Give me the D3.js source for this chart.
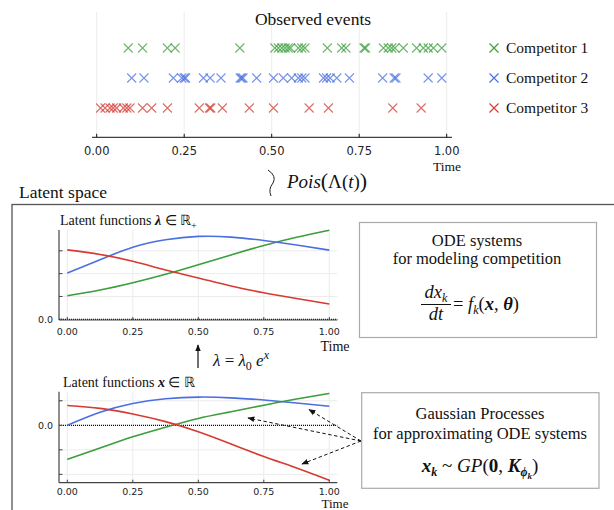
<!DOCTYPE html>
<html>
<head>
<meta charset="utf-8">
<script src="https://cdn.jsdelivr.net/npm/d3@7"></script>
<style>
  body { margin: 0; background: #fff; }
  svg { display: block; }
  .serif { font-family: "Liberation Serif", "Times New Roman", serif; fill: #111; }
  .tick-label { font-family: "DejaVu Sans", sans-serif; fill: #222; }
</style>
</head>
<body>
<svg id="chart" width="614" height="510"></svg>
<script>
// ---- data ----
const timeTicks = [0, 0.25, 0.5, 0.75, 1];
const competitors = ["Competitor 1", "Competitor 2", "Competitor 3"];
const colors = ["#3b9d3b", "#4a6fe0", "#d63a30"];

// event times for each competitor
const events1 = [0.090, 0.131, 0.202, 0.224, 0.409, 0.509, 0.519, 0.529, 0.538, 0.547, 0.554, 0.576, 0.586, 0.595,
                 0.659, 0.700, 0.712, 0.764, 0.768, 0.819, 0.833, 0.843, 0.852, 0.876, 0.914, 0.933, 0.947, 0.962, 0.986];
const events2 = [0.100, 0.135, 0.219, 0.243, 0.250, 0.254, 0.305, 0.324, 0.355, 0.410, 0.414, 0.418, 0.457, 0.505,
                 0.533, 0.557, 0.576, 0.586, 0.595, 0.648, 0.657, 0.667, 0.686, 0.722, 0.817, 0.850, 0.855, 0.947, 0.986];
const events3 = [0.011, 0.024, 0.038, 0.047, 0.057, 0.076, 0.086, 0.095, 0.131, 0.157, 0.202, 0.293, 0.322, 0.326,
                 0.359, 0.436, 0.505, 0.607, 0.662, 0.846, 0.927];

// latent curves sampled at these times
const curveT = [0, 0.125, 0.25, 0.375, 0.5, 0.625, 0.75, 0.875, 1];
// lambda (positive intensities)
const lambda1 = [1.03, 1.28, 1.60, 1.97, 2.39, 2.82, 3.23, 3.59, 3.90];
const lambda2 = [2.03, 2.61, 3.15, 3.48, 3.63, 3.60, 3.45, 3.25, 3.03];
const lambda3 = [3.04, 2.84, 2.54, 2.16, 1.81, 1.46, 1.16, 0.91, 0.67];
const lambdaTicks = [0, 1, 2, 3];
// x (log intensities)
const latent1 = [-1.39, -0.93, -0.47, -0.08, 0.28, 0.55, 0.82, 1.07, 1.30];
const latent2 = [0.00, 0.53, 0.89, 1.08, 1.15, 1.12, 1.03, 0.91, 0.78];
const latent3 = [0.81, 0.69, 0.46, 0.15, -0.26, -0.76, -1.27, -1.74, -2.24];
const latentTicks = [1, 0, -1, -2];

const svg = d3.select("#chart");
const fmt2 = d3.format(".2f");
const crossPath = "M-4.5,-4.5L4.5,4.5M-4.5,4.5L4.5,-4.5";

// ---------- top: observed events ----------
const xTop = d3.scaleLinear().domain([0, 1]).range([96.7, 446.7]);
const rowY = d3.scalePoint().domain(competitors).range([48, 108]);

const topG = svg.append("g");
topG.selectAll("line.grid").data(timeTicks).join("line")
  .attr("x1", d => xTop(d)).attr("x2", d => xTop(d))
  .attr("y1", 12).attr("y2", 137)
  .attr("stroke", "#ececec").attr("stroke-width", 1);

topG.append("text").attr("class", "serif")
  .attr("x", 313).attr("y", 25).attr("text-anchor", "middle")
  .style("font-size", "17.5px").text("Observed events");

[events1, events2, events3].forEach((ev, i) => {
  topG.selectAll(null).data(ev).join("path")
    .attr("d", crossPath)
    .attr("transform", d => `translate(${xTop(d)},${rowY(competitors[i])})`)
    .attr("fill", "none").attr("stroke", colors[i])
    .attr("stroke-width", 1.1).attr("stroke-opacity", 0.75);
});

// axis
const axTop = topG.append("g").attr("transform", "translate(0,137.3)");
axTop.append("line").attr("x1", 92).attr("x2", 452).attr("stroke", "#111").attr("stroke-width", 1);
axTop.selectAll("line.t").data(timeTicks).join("line")
  .attr("x1", d => xTop(d)).attr("x2", d => xTop(d)).attr("y1", 0).attr("y2", -3.5)
  .attr("stroke", "#111");
axTop.selectAll("text").data(timeTicks).join("text")
  .attr("class", "tick-label").attr("x", d => xTop(d)).attr("y", 18)
  .attr("text-anchor", "middle").style("font-size", "11.5px").text(d => fmt2(d));
topG.append("text").attr("class", "serif").attr("x", 447).attr("y", 171)
  .attr("text-anchor", "middle").style("font-size", "13.5px").text("Time");

// legend
const leg = topG.selectAll("g.leg").data(competitors).join("g")
  .attr("transform", d => `translate(494,${rowY(d)})`);
leg.append("path").attr("d", crossPath).attr("fill", "none")
  .attr("stroke", (d, i) => colors[i]).attr("stroke-width", 1.2);
leg.append("text").attr("class", "serif").attr("x", 12).attr("y", 5)
  .style("font-size", "15.5px").text(d => d);

// Poisson link
svg.append("path").attr("d", "M268,170 Q277,176 273,183 Q268,189 271,196")
  .attr("fill", "none").attr("stroke", "#222").attr("stroke-width", 1);
const pois = svg.append("text").attr("class", "serif").attr("x", 287).attr("y", 188)
  .style("font-size", "19px");
pois.append("tspan").style("font-style", "italic").text("Pois");
pois.append("tspan").style("font-size", "22px").text("(");
pois.append("tspan").text("Λ(");
pois.append("tspan").style("font-style", "italic").text("t");
pois.append("tspan").text(")");
pois.append("tspan").style("font-size", "22px").text(")");

// ---------- latent space frame ----------
svg.append("text").attr("class", "serif").attr("x", 19).attr("y", 198)
  .style("font-size", "17.5px").text("Latent space");
svg.append("rect").attr("x", 12).attr("y", 204.5).attr("width", 620).attr("height", 320)
  .attr("fill", "none").attr("stroke", "#555").attr("stroke-width", 1.3);

const xIn = d3.scaleLinear().domain([0, 1]).range([67.3, 329.3]);

function panel(yScale, yTicks, series, yTop, yBottom, labelOff, timeOff, timeSize) {
  const g = svg.append("g");
  // grid
  g.selectAll("line.vg").data(timeTicks).join("line")
    .attr("x1", d => xIn(d)).attr("x2", d => xIn(d)).attr("y1", yTop).attr("y2", yBottom)
    .attr("stroke", "#ececec");
  g.selectAll("line.hg").data(yTicks).join("line")
    .attr("x1", 59).attr("x2", 337.3).attr("y1", d => yScale(d)).attr("y2", d => yScale(d))
    .attr("stroke", "#ececec");
  // zero line
  g.append("line").attr("x1", 59).attr("x2", 337.3).attr("y1", yScale(0)).attr("y2", yScale(0))
    .attr("stroke", "#111").attr("stroke-width", 1.2).attr("stroke-dasharray", "1,1");
  // curves
  const line = d3.line().x((d, i) => xIn(curveT[i])).y(d => yScale(d)).curve(d3.curveNatural);
  series.forEach((s, i) => {
    g.append("path").attr("d", line(s)).attr("fill", "none")
      .attr("stroke", colors[i]).attr("stroke-width", 1.6);
  });
  // axes
  g.append("line").attr("x1", 59).attr("x2", 59).attr("y1", yTop).attr("y2", yBottom)
    .attr("stroke", "#444").attr("stroke-width", 1.2);
  g.append("line").attr("x1", 59).attr("x2", 337.3).attr("y1", yBottom).attr("y2", yBottom)
    .attr("stroke", "#444").attr("stroke-width", 1.2);
  g.selectAll("line.yt").data(yTicks).join("line")
    .attr("x1", 59).attr("x2", 62.5).attr("y1", d => yScale(d)).attr("y2", d => yScale(d))
    .attr("stroke", "#444");
  g.selectAll("line.xt").data(timeTicks).join("line")
    .attr("x1", d => xIn(d)).attr("x2", d => xIn(d)).attr("y1", yBottom).attr("y2", yBottom - 3)
    .attr("stroke", "#444");
  g.selectAll("text.xl").data(timeTicks).join("text")
    .attr("class", "tick-label").attr("x", d => xIn(d)).attr("y", yBottom + labelOff)
    .attr("text-anchor", "middle").style("font-size", "9.5px").text(d => fmt2(d));
  g.append("text").attr("class", "tick-label").attr("x", 53).attr("y", yScale(0) + 3.5)
    .attr("text-anchor", "end").style("font-size", "9.5px").text("0.0");
  g.append("text").attr("class", "serif").attr("x", 335).attr("y", yBottom + timeOff)
    .attr("text-anchor", "middle").style("font-size", timeSize).text("Time");
  return g;
}

// lambda panel
const yLam = d3.scaleLinear().domain([0, 3.91]).range([319.3, 230]);
panel(yLam, lambdaTicks, [lambda1, lambda2, lambda3], 230, 320, 15, 31, "14px");
const t1 = svg.append("text").attr("class", "serif").attr("x", 60).attr("y", 225)
  .style("font-size", "14px");
t1.append("tspan").text("Latent functions ");
t1.append("tspan").style("font-weight", "bold").style("font-style", "italic").text("λ");
t1.append("tspan").text(" ∈ ℝ");
t1.append("tspan").attr("dy", 4).style("font-size", "10px").text("+");

// x panel
const yLat = d3.scaleLinear().domain([-2.34, 1.37]).range([482.7, 391.7]);
panel(yLat, latentTicks, [latent1, latent2, latent3], 391.7, 482.7, 11.8, 25.5, "13px");
const t2 = svg.append("text").attr("class", "serif").attr("x", 63).attr("y", 387)
  .style("font-size", "14px");
t2.append("tspan").text("Latent functions  ");
t2.append("tspan").style("font-weight", "bold").style("font-style", "italic").text("x");
t2.append("tspan").text(" ∈ ℝ");

// arrow lambda = lambda0 e^x
svg.append("defs").html(
  '<marker id="head" viewBox="0 0 10 10" refX="9" refY="5" markerWidth="6" markerHeight="6" orient="auto">' +
  '<path d="M0,1L10,5L0,9z" fill="#111"/></marker>' +
  '<marker id="head2" viewBox="0 0 10 10" refX="9" refY="5" markerWidth="7" markerHeight="7" orient="auto">' +
  '<path d="M0,1L10,5L0,9z" fill="#111"/></marker>');
svg.append("line").attr("x1", 198).attr("x2", 198).attr("y1", 368).attr("y2", 345)
  .attr("stroke", "#111").attr("stroke-width", 1.2).attr("marker-end", "url(#head)");
const lam = svg.append("text").attr("class", "serif").attr("x", 213).attr("y", 366)
  .style("font-size", "17px");
lam.append("tspan").style("font-style", "italic").text("λ");
lam.append("tspan").text(" = ");
lam.append("tspan").style("font-style", "italic").text("λ");
lam.append("tspan").attr("dy", 4).style("font-size", "12px").text("0");
lam.append("tspan").attr("dy", -4).text(" ");
lam.append("tspan").style("font-style", "italic").text("e");
lam.append("tspan").attr("dy", -7).style("font-size", "12px").style("font-style", "italic").text("x");

// ODE box
const ode = svg.append("g");
ode.append("rect").attr("x", 359.5).attr("y", 222.5).attr("width", 237).attr("height", 115)
  .attr("fill", "#fff").attr("stroke", "#aaa").attr("stroke-width", 1.2);
ode.append("text").attr("class", "serif").attr("x", 477).attr("y", 246).attr("text-anchor", "middle")
  .style("font-size", "16.5px").text("ODE systems");
ode.append("text").attr("class", "serif").attr("x", 477).attr("y", 264).attr("text-anchor", "middle")
  .style("font-size", "16.5px").text("for modeling competition");
const num = ode.append("text").attr("class", "serif").attr("x", 436).attr("y", 298)
  .attr("text-anchor", "middle").style("font-size", "18.5px");
num.append("tspan").style("font-style", "italic").text("dx");
num.append("tspan").attr("dy", 4).style("font-size", "12px").style("font-style", "italic").text("k");
ode.append("line").attr("x1", 421).attr("x2", 451).attr("y1", 304.5).attr("y2", 304.5)
  .attr("stroke", "#111").attr("stroke-width", 1);
ode.append("text").attr("class", "serif").attr("x", 436).attr("y", 320)
  .attr("text-anchor", "middle").style("font-size", "18.5px").style("font-style", "italic").text("dt");
const rhs = ode.append("text").attr("class", "serif").attr("x", 453).attr("y", 309.5)
  .style("font-size", "18.5px");
rhs.append("tspan").text("= ");
rhs.append("tspan").style("font-style", "italic").text("f");
rhs.append("tspan").attr("dy", 4).style("font-size", "12px").style("font-style", "italic").text("k");
rhs.append("tspan").attr("dy", -4).text("(");
rhs.append("tspan").style("font-style", "italic").style("font-weight", "bold").text("x");
rhs.append("tspan").text(", ");
rhs.append("tspan").style("font-style", "italic").style("font-weight", "bold").text("θ");
rhs.append("tspan").text(")");

// GP box
const gp = svg.append("g");
gp.append("rect").attr("x", 361.7).attr("y", 392.7).attr("width", 237.3).attr("height", 95.6)
  .attr("fill", "#fff").attr("stroke", "#aaa").attr("stroke-width", 1.2);
gp.append("text").attr("class", "serif").attr("x", 480).attr("y", 419).attr("text-anchor", "middle")
  .style("font-size", "16.5px").text("Gaussian Processes");
gp.append("text").attr("class", "serif").attr("x", 480).attr("y", 439).attr("text-anchor", "middle")
  .style("font-size", "16.5px").text("for approximating ODE systems");
const gpf = gp.append("text").attr("class", "serif").attr("x", 480).attr("y", 471.5)
  .attr("text-anchor", "middle").style("font-size", "19px");
gpf.append("tspan").style("font-style", "italic").style("font-weight", "bold").text("x");
gpf.append("tspan").attr("dy", 4).style("font-size", "12px").style("font-style", "italic").style("font-weight", "bold").text("k");
gpf.append("tspan").attr("dy", -4).text(" ~ ");
gpf.append("tspan").style("font-style", "italic").text("GP");
gpf.append("tspan").text("(");
gpf.append("tspan").style("font-weight", "bold").text("0");
gpf.append("tspan").text(", ");
gpf.append("tspan").style("font-style", "italic").style("font-weight", "bold").text("K");
gpf.append("tspan").attr("dy", 4).style("font-size", "12px").style("font-style", "italic").style("font-weight", "bold").text("ϕ");
gpf.append("tspan").attr("dy", 3).style("font-size", "9px").style("font-style", "italic").style("font-weight", "bold").text("k");
gpf.append("tspan").attr("dy", -7).text(")");

// dashed arrows from the GP box to the curves
const arrowTargets = [[309, 409.5], [248, 418], [302, 464]];
svg.selectAll("line.dash").data(arrowTargets).join("line")
  .attr("x1", 361).attr("y1", 441).attr("x2", d => d[0]).attr("y2", d => d[1])
  .attr("stroke", "#111").attr("stroke-width", 1).attr("stroke-dasharray", "3.5,2.5")
  .attr("marker-end", "url(#head2)");
</script>
</body>
</html>
